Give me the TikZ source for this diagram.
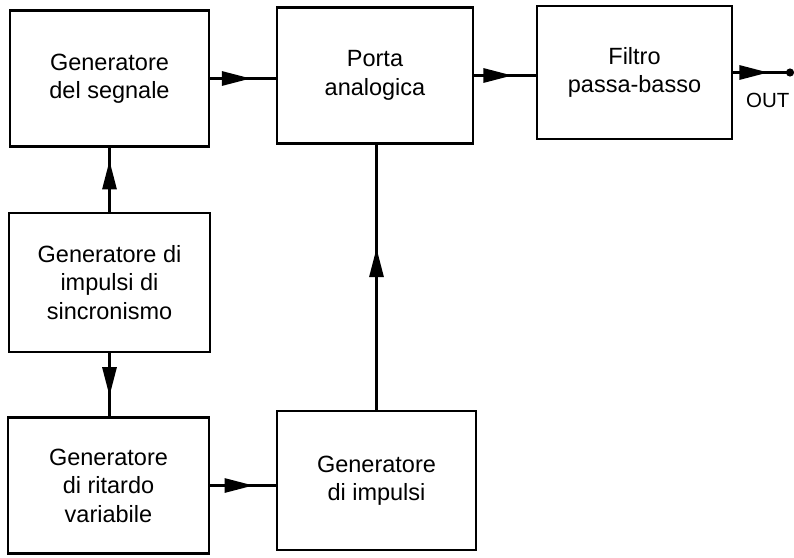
\documentclass[tikz,border=0pt]{standalone}
\usepackage{fontspec}
\setmainfont{Liberation Sans}
\usetikzlibrary{arrows.meta,decorations.markings}
\begin{document}
\begin{tikzpicture}[x=1pt,y=-1pt,
  blockbox/.style={draw,line width=2.2pt,inner sep=0pt,align=center,
    font=\fontsize{23.5}{28.5}\selectfont},
  wire/.style={draw,line width=3pt},
  conn/.style={wire,postaction={decorate},
    decoration={markings,mark=at position #1 with
      {\arrow{Triangle[length=29pt,width=14pt]}}}}]
  % page frame
  \fill[white] (0,0) rectangle (794,557);
  \useasboundingbox (0,0) rectangle (794,557);

  % blocks
  \node[blockbox,minimum width=199pt,minimum height=136pt] (gen) at (109.5,78.5)
    {Generatore\\del segnale};
  \node[blockbox,minimum width=196pt,minimum height=136pt] (porta) at (375,75.5)
    {Porta\\analogica};
  \node[blockbox,minimum width=195pt,minimum height=133pt] (filtro) at (634.5,72.5)
    {Filtro\\passa-basso};
  \node[blockbox,minimum width=201pt,minimum height=139pt] (sync) at (109.5,282.5)
    {Generatore di\\impulsi di\\sincronismo};
  \node[blockbox,minimum width=201pt,minimum height=136pt] (ritardo) at (108.5,485.5)
    {Generatore\\di ritardo\\variabile};
  \node[blockbox,minimum width=199pt,minimum height=139pt] (impulsi) at (376.5,480.5)
    {Generatore\\di impulsi};

  % output terminal
  \coordinate (out) at (790,72.5);
  \node[font=\fontsize{20.5}{24}\selectfont,anchor=west,inner sep=0pt] (outlbl) at (746,100) {OUT};

  % connectors
  \draw[conn=0.62] (gen.east) -- (gen.east -| porta.west);
  \draw[conn=0.62] (porta.east) -- (porta.east -| filtro.west);
  \draw[conn=0.62] (filtro.east) -- (filtro.east -| out);
  \draw[line width=2pt,fill=black] (filtro.east -| out) circle (3pt);
  \draw[conn=0.8] (sync.north) -- (sync.north |- gen.south);
  \draw[conn=0.68] (sync.south) -- (sync.south |- ritardo.north);
  \draw[conn=0.61] (impulsi.north) -- (impulsi.north |- porta.south);
  \draw[conn=0.66] (ritardo.east) -- (ritardo.east -| impulsi.west);
\end{tikzpicture}
\end{document}
